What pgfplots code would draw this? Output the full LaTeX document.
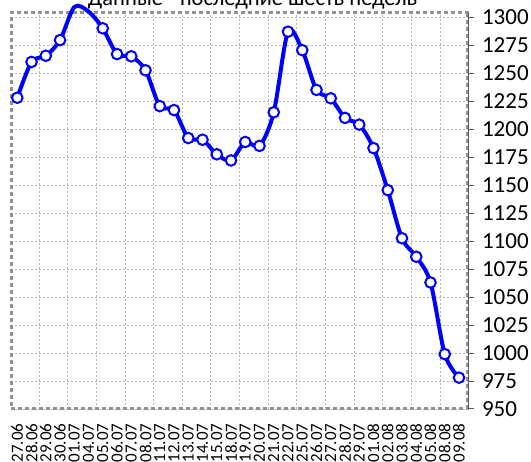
\documentclass[border=0pt]{standalone}
\usepackage{fontspec}
\setmainfont{Carlito}
\usepackage{pgfplots}
\pgfplotsset{compat=1.18}
\usepackage{pgfplotstable}
\definecolor{framegray}{RGB}{145,145,145}
\definecolor{gridgray}{RGB}{180,180,180}
\definecolor{axisgray}{RGB}{90,90,90}
\definecolor{lineblue}{RGB}{0,0,255}

\pgfplotstableread{
x v
0 1228
1 1260
2 1265.5
3 1279.5
4 1309
5 1305
6 1290
7 1267
8 1265
9 1252.5
10 1220.5
11 1217
12 1192
13 1190.5
14 1177.5
15 1172
16 1188.5
17 1185
18 1215
19 1287
20 1270.5
21 1235
22 1227.5
23 1210
24 1204
25 1183
26 1145.5
27 1102.5
28 1086
29 1063
30 999
31 978
}\datatable

\begin{document}
\begin{tikzpicture}
\useasboundingbox (0,0) rectangle (531pt,462pt);
\begin{axis}[
  at={(11pt,53pt)}, anchor=south west,
  scale only axis, width=457.5pt, height=396pt,
  xmin=-0.442, xmax=31.667, ymin=950, ymax=1303.7,
  clip=false,
  axis line style={draw=none},
  xtick={0,...,31},
  xticklabels={27.06,28.06,29.06,30.06,01.07,04.07,05.07,06.07,07.07,08.07,11.07,12.07,13.07,14.07,15.07,18.07,19.07,20.07,21.07,22.07,25.07,26.07,27.07,28.07,29.07,01.08,02.08,03.08,04.08,05.08,08.08,09.08},
  x tick label style={rotate=90, anchor=east, font=\fontsize{17}{17}\selectfont},
  xticklabel shift=6pt,
  major x tick style={draw=none},
  ytick={950,975,...,1300},
  ytick pos=right,
  yticklabel pos=right,
  tick align=outside,
  major tick length=5pt,
  y tick style={axisgray, line width=1pt},
  y tick label style={font=\fontsize{23}{23}\selectfont, anchor=west, xshift=5pt},
  /pgf/number format/assume math mode=true,
  /pgf/number format/1000 sep={},
  ymajorgrids,
  extra x ticks={1.52,3.53,5.54,7.55,9.56,11.57,13.58,15.59,17.60,19.61,21.62,23.63,25.64,27.65,29.66},
  extra x tick labels={},
  extra x tick style={xmajorgrids=true, major tick length=0pt},
  grid style={gridgray, line width=0.7pt, dash pattern=on 2pt off 2pt},
]
\draw[framegray, line width=3pt, dash pattern=on 4pt off 3pt] (rel axis cs:1,1) -- (rel axis cs:0,1) -- (rel axis cs:0,0) -- (rel axis cs:1,0);
\draw[framegray, line width=3pt, dash pattern=on 4pt off 3pt] ([xshift=-1.5pt]rel axis cs:1,0) -- ([xshift=-1.5pt]rel axis cs:1,1);
\draw[axisgray, line width=1.2pt] (rel axis cs:1,0) -- (rel axis cs:1,1);
\addplot[lineblue, line width=4pt, smooth, no marks] table[x=x, y=v] {\datatable};
\addplot[only marks, mark=*, mark size=5.3pt, mark options={fill=white, draw=lineblue, line width=2pt}, skip coords between index={4}{6}] table[x=x, y=v] {\datatable};
\end{axis}
\node[anchor=base, font=\fontsize{22.4}{22.4}\selectfont] at (252.5pt,456pt) {Данные - последние шесть недель};
\end{tikzpicture}
\end{document}
